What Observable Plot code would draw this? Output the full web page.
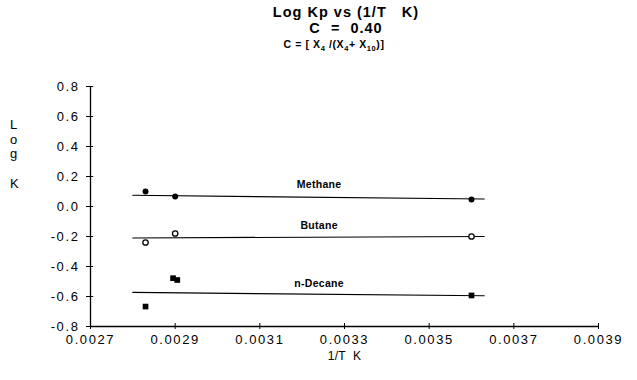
<!DOCTYPE html>
<html>
<head>
<meta charset="utf-8">
<script src="https://cdn.jsdelivr.net/npm/d3@7"></script>
<script src="https://cdn.jsdelivr.net/npm/@observablehq/plot@0.6"></script>
<style>
  html, body { margin: 0; padding: 0; background: #fff; }
  #wrap { position: relative; width: 637px; height: 380px; font-family: "Liberation Sans", Arial, sans-serif; color: #000; }
  .t { position: absolute; white-space: nowrap; transform: translateX(-50%); font-weight: bold; line-height: 1; }
  .yl { position: absolute; font-size: 13px; line-height: 1; }
  svg text { letter-spacing: 1.6px; }
  svg .lbl text { letter-spacing: 0.3px; }
</style>
</head>
<body>
<div id="wrap">
  <div class="t" style="left:346px; top:5px; font-size:14.5px; letter-spacing:1px;">Log Kp vs (1/T&nbsp;&nbsp;&nbsp;K)</div>
  <div class="t" style="left:346px; top:21px; font-size:14.5px; letter-spacing:1px;">C &nbsp;= &nbsp;0.40</div>
  <div class="t" style="left:334px; top:39px; font-size:10.5px; letter-spacing:0.6px;">C = [ X<sub style="font-size:7.5px">4</sub> /(X<sub style="font-size:7.5px">4</sub>+ X<sub style="font-size:7.5px">10</sub>)]</div>
  <div class="yl" style="left:10px; top:118px;">L</div>
  <div class="yl" style="left:10px; top:133px;">o</div>
  <div class="yl" style="left:10px; top:147px;">g</div>
  <div class="yl" style="left:10px; top:177px;">K</div>
  <div id="chart" style="position:absolute; left:0; top:0;"></div>
</div>
<script>
// ---- data ----
const xTicks = [0.0027, 0.0029, 0.0031, 0.0033, 0.0035, 0.0037, 0.0039];
const yTicks = [-0.8, -0.6, -0.4, -0.2, 0.0, 0.2, 0.4, 0.6, 0.8];

const methaneX = [0.00283, 0.00290, 0.00360];
const methaneY = [0.100, 0.067, 0.047];
const butaneX  = [0.00283, 0.00290, 0.00360];
const butaneY  = [-0.240, -0.180, -0.200];
const decaneX  = [0.00283, 0.002895, 0.002905, 0.00360];
const decaneY  = [-0.667, -0.478, -0.490, -0.593];

const fitX = [0.00280, 0.00363];
const methaneFit = [0.075, 0.050];
const butaneFit  = [-0.210, -0.200];
const decaneFit  = [-0.573, -0.595];

const seriesNames = ["Methane", "Butane", "n-Decane"];
const labelX = [0.00324, 0.00324, 0.00324];
const labelY = [0.145, -0.127, -0.512];

// ---- build tables ----
const pts = (xs, ys) => xs.map((x, i) => ({x, y: ys[i]}));
const fit = (ys) => fitX.map((x, i) => ({x, y: ys[i]}));
const labels = seriesNames.map((s, i) => ({s, x: labelX[i], y: labelY[i]}));

const x0 = xTicks[0], y0 = yTicks[0];
const dxIn = 0.0000075, dyIn = 0.02;

const chart = Plot.plot({
  width: 637,
  height: 380,
  marginLeft: 90,
  marginRight: 39,
  marginTop: 86,
  marginBottom: 54,
  style: {fontFamily: "Liberation Sans, Arial, sans-serif", fontSize: "13px", color: "#000", background: "transparent"},
  x: {domain: [0.0027, 0.0039]},
  y: {domain: [-0.8, 0.8]},
  marks: [
    Plot.ruleX([x0], {y1: -0.8, y2: 0.8, stroke: "#000", strokeWidth: 1.3}),
    Plot.ruleY([y0], {x1: 0.0027, x2: 0.0039, stroke: "#000", strokeWidth: 1.3}),
    Plot.axisY(yTicks, {tickSize: 4, tickPadding: 7, tickFormat: d => d.toFixed(1), label: null, fontSize: 13, strokeWidth: 1}),
    Plot.ruleY(yTicks, {x1: x0, x2: x0 + dxIn, stroke: "#000"}),
    Plot.axisX(xTicks, {tickSize: 3, tickPadding: 5, tickFormat: d => d.toFixed(4), label: null, fontSize: 13}),
    Plot.ruleX(xTicks, {y1: y0, y2: y0 + dyIn, stroke: "#000"}),
    Plot.text(["1/T  K"], {frameAnchor: "bottom", dy: 33, fontSize: 12, text: d => d, className: "lbl"}),
    Plot.line(fit(methaneFit), {x: "x", y: "y", stroke: "#000", strokeWidth: 1.2}),
    Plot.line(fit(butaneFit), {x: "x", y: "y", stroke: "#000", strokeWidth: 1.2}),
    Plot.line(fit(decaneFit), {x: "x", y: "y", stroke: "#000", strokeWidth: 1.2}),
    Plot.dot(pts(methaneX, methaneY), {x: "x", y: "y", r: 3, fill: "#000", stroke: "none"}),
    Plot.dot(pts(butaneX, butaneY), {x: "x", y: "y", r: 2.7, fill: "#fff", stroke: "#000", strokeWidth: 1.3}),
    Plot.dot(pts(decaneX, decaneY), {x: "x", y: "y", r: 3.2, symbol: "square", fill: "#000", stroke: "none"}),
    Plot.text(labels, {x: "x", y: "y", text: "s", fontSize: 10.5, fontWeight: "bold", className: "lbl"})
  ]
});
document.getElementById("chart").appendChild(chart);
</script>
</body>
</html>
